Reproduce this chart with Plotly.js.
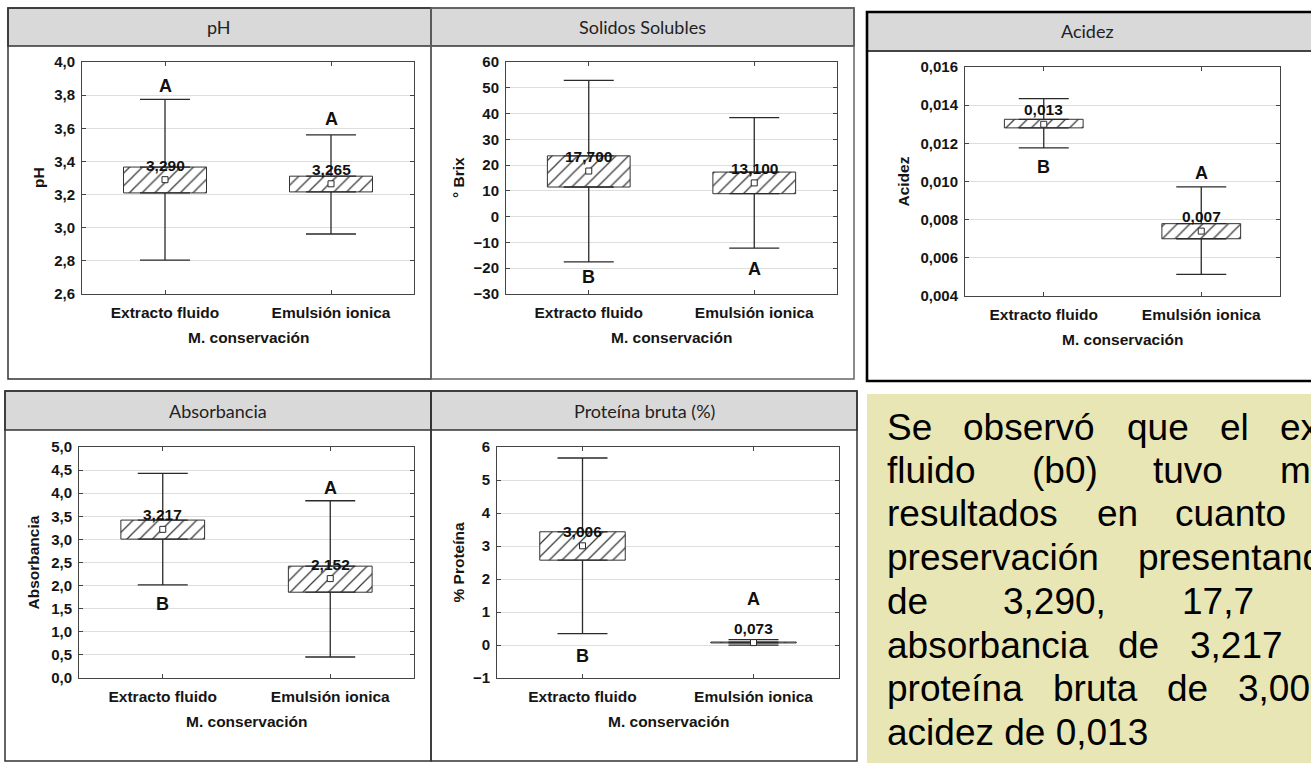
<!DOCTYPE html>
<html>
<head>
<meta charset="utf-8">
<script src="https://cdn.plot.ly/plotly-3.0.1.min.js"></script>
<style>html,body{margin:0;padding:0;background:#fff;}#chart{width:1311px;height:763px;}</style>
</head>
<body>
<div id="chart"></div>
<script>
// ---------------- DATA ----------------
const categories = ['Extracto fluido', 'Emulsión ionica'];
const panelTitles = ['pH', 'Solidos Solubles', 'Acidez', 'Absorbancia', 'Proteína bruta (%)'];
const yTitles = ['pH', '° Brix', 'Acidez', 'Absorbancia', '% Proteína'];
const xTitle = 'M. conservación';

const phMean = [3.290, 3.265];
const phBoxHigh = [3.366, 3.311];
const phBoxLow = [3.210, 3.216];
const phWhiskerHigh = [3.775, 3.560];
const phWhiskerLow = [2.805, 2.962];
const phLetters = ['A', 'A'];
const phLetterY = [3.853, 3.658];

const brixMean = [17.7, 13.1];
const brixBoxHigh = [23.6, 17.3];
const brixBoxLow = [11.5, 8.9];
const brixWhiskerHigh = [52.9, 38.4];
const brixWhiskerLow = [-17.5, -12.2];
const brixLetters = ['B', 'A'];
const brixLetterY = [-23.5, -20.4];

const acidMean = [0.0130, 0.0074];
const acidBoxHigh = [0.01326, 0.00779];
const acidBoxLow = [0.01281, 0.00700];
const acidWhiskerHigh = [0.01434, 0.00972];
const acidWhiskerLow = [0.01176, 0.00513];
const acidLetters = ['B', 'A'];
const acidLetterY = [0.01077, 0.01042];

const absMean = [3.217, 2.152];
const absBoxHigh = [3.418, 2.421];
const absBoxLow = [3.006, 1.857];
const absWhiskerHigh = [4.429, 3.837];
const absWhiskerLow = [2.016, 0.455];
const absLetters = ['B', 'A'];
const absLetterY = [1.604, 4.12];

const protMean = [3.006, 0.073];
const protBoxHigh = [3.431, 0.090];
const protBoxLow = [2.571, 0.062];
const protWhiskerHigh = [5.666, 0.160];
const protWhiskerLow = [0.345, -0.005];
const protLetters = ['B', 'A'];
const protLetterY = [-0.32, 1.38];

const yRanges = [[2.6, 4.0], [-30, 60], [0.004, 0.016], [0, 5], [-1, 6]];
const yDticks = [0.2, 10, 0.002, 0.5, 1];
const yFormats = ['.1f', 'd', '.3f', '.1f', 'd'];

const noteLines = [
  ['Se', 'observó', 'que', 'el', 'extracto'],
  ['fluido', '(b0)', 'tuvo', 'mejores'],
  ['resultados', 'en', 'cuanto'],
  ['preservación', 'presentando'],
  ['de', '3,290,', '17,7'],
  ['absorbancia', 'de', '3,217'],
  ['proteína', 'bruta', 'de', '3,006'],
  ['acidez de 0,013']
];

// ---------------- LAYOUT HELPERS ----------------
const W = 1311, H = 763;
const px = x => x / W;
const py = y => 1 - y / H;

const series = [
  {mean: phMean, hi: phBoxHigh, lo: phBoxLow, wh: phWhiskerHigh, wl: phWhiskerLow, letters: phLetters, ly: phLetterY},
  {mean: brixMean, hi: brixBoxHigh, lo: brixBoxLow, wh: brixWhiskerHigh, wl: brixWhiskerLow, letters: brixLetters, ly: brixLetterY},
  {mean: acidMean, hi: acidBoxHigh, lo: acidBoxLow, wh: acidWhiskerHigh, wl: acidWhiskerLow, letters: acidLetters, ly: acidLetterY},
  {mean: absMean, hi: absBoxHigh, lo: absBoxLow, wh: absWhiskerHigh, wl: absWhiskerLow, letters: absLetters, ly: absLetterY},
  {mean: protMean, hi: protBoxHigh, lo: protBoxLow, wh: protWhiskerHigh, wl: protWhiskerLow, letters: protLetters, ly: protLetterY}
];

// plot-area pixel boxes [left, right, top, bottom]
const plotBoxes = [
  [82, 414, 62, 294],
  [506, 837, 62, 294],
  [965, 1280, 67, 296],
  [79, 414, 447, 678],
  [497, 839, 447, 678]
];
// panel frames [left, right, top, headerBottom, bottom]
const frames = [
  [8, 431, 8, 46, 379],
  [431, 854, 8, 46, 379],
  [867, 1316, 12, 51, 381],
  [5, 431, 391, 430, 761],
  [431, 857, 391, 430, 761]
];
const yTitleX = [38, 458, 903, 33, 458];
const xTitleY = [337, 337, 339, 721, 721];

const FONT = 'Liberation Sans, Arial, sans-serif';
const INK = '#2a2a2a';
const TXT = '#151515';

const traces = [];
const annotations = [];
const shapes = [];
const layout = {
  width: W, height: H,
  margin: {l: 0, r: 0, t: 0, b: 0},
  paper_bgcolor: '#ffffff',
  plot_bgcolor: '#ffffff',
  showlegend: false,
  separators: ',.',
  font: {family: FONT, color: TXT}
};

// text box background
shapes.push({type: 'rect', xref: 'paper', yref: 'paper', x0: px(867), x1: px(1316), y0: py(394), y1: py(766),
  fillcolor: '#e7e6b4', line: {width: 0}, layer: 'below'});

series.forEach((s, i) => {
  const n = i + 1;
  const xa = n === 1 ? 'x' : 'x' + n;
  const ya = n === 1 ? 'y' : 'y' + n;
  const [l, r, t, b] = plotBoxes[i];
  const [fl, fr, ft, fh, fb] = frames[i];

  layout['xaxis' + (n === 1 ? '' : n)] = {
    domain: [px(l), px(r)], anchor: ya, type: 'category', range: [-0.5, 1.5],
    showgrid: false, zeroline: false, showline: true, linecolor: '#444', linewidth: 1, mirror: 'ticks',
    ticks: 'inside', ticklen: 4, tickcolor: '#444', automargin: false, fixedrange: true,
    tickfont: {family: FONT, size: 15.5, color: TXT, weight: 'bold'}, ticklabelstandoff: 4
  };
  layout['yaxis' + (n === 1 ? '' : n)] = {
    domain: [py(b), py(t)], anchor: xa, range: yRanges[i], dtick: yDticks[i], tick0: yRanges[i][0],
    tickformat: yFormats[i], showgrid: true, gridcolor: '#dedede', gridwidth: 1, zeroline: false,
    showline: true, linecolor: '#444', linewidth: 1, mirror: 'ticks', ticks: 'inside', ticklen: 4,
    tickcolor: '#444', automargin: false, fixedrange: true,
    tickfont: {family: FONT, size: 15, color: TXT, weight: 'bold'}, ticklabelstandoff: 3
  };

  // hatched box (mean ± error)
  traces.push({
    type: 'bar', x: categories, base: s.lo, y: s.hi.map((h, k) => h - s.lo[k]), width: 0.5,
    xaxis: xa, yaxis: ya, hoverinfo: 'skip',
    marker: {color: '#ffffff', line: {color: '#333', width: 1},
      pattern: {shape: '/', fgcolor: '#3a3a3a', bgcolor: '#ffffff', size: 9, solidity: 0.14}}
  });
  // upper whisker
  traces.push({
    type: 'scatter', mode: 'markers', x: categories, y: s.hi, xaxis: xa, yaxis: ya, hoverinfo: 'skip',
    marker: {color: 'rgba(0,0,0,0)', size: 1},
    error_y: {type: 'data', symmetric: false, array: s.wh.map((w, k) => w - s.hi[k]),
      arrayminus: [0, 0], width: 25, thickness: 1.3, color: INK}
  });
  // lower whisker
  traces.push({
    type: 'scatter', mode: 'markers', x: categories, y: s.lo, xaxis: xa, yaxis: ya, hoverinfo: 'skip',
    marker: {color: 'rgba(0,0,0,0)', size: 1},
    error_y: {type: 'data', symmetric: false, array: [0, 0], arrayminus: s.lo.map((v, k) => v - s.wl[k]),
      width: 25, thickness: 1.3, color: INK}
  });
  // mean marker
  traces.push({
    type: 'scatter', mode: 'markers', x: categories, y: s.mean, xaxis: xa, yaxis: ya, hoverinfo: 'skip',
    marker: {symbol: 'square', size: 6, color: '#ffffff', line: {color: INK, width: 1}}
  });

  // mean labels and letters
  s.mean.forEach((m, k) => {
    annotations.push({xref: xa, yref: ya, x: categories[k], y: m, yshift: 14.5, showarrow: false,
      xanchor: 'center', yanchor: 'middle',
      text: m.toFixed(3).replace('.', ','), font: {family: FONT, size: 15.5, color: '#111', weight: 'bold'}});
    annotations.push({xref: xa, yref: ya, x: categories[k], y: s.ly[k], showarrow: false,
      xanchor: 'center', yanchor: 'middle',
      text: s.letters[k], font: {family: FONT, size: 18, color: '#111', weight: 'bold'}});
  });

  // axis titles
  annotations.push({xref: 'paper', yref: 'paper', x: px(yTitleX[i]), y: py((t + b) / 2), textangle: -90,
    xanchor: 'center', yanchor: 'middle',
    showarrow: false, text: yTitles[i], font: {family: FONT, size: 15.5, color: TXT, weight: 'bold'}});
  annotations.push({xref: 'paper', yref: 'paper', x: px((l + r) / 2), y: py(xTitleY[i]),
    xanchor: 'center', yanchor: 'middle',
    showarrow: false, text: xTitle, font: {family: FONT, size: 15.5, color: TXT, weight: 'bold'}});

  // panel frame & header
  const thick = i === 2;
  shapes.push({type: 'rect', xref: 'paper', yref: 'paper', x0: px(fl), x1: px(fr), y0: py(fh), y1: py(ft),
    fillcolor: '#d9d9d9', line: {color: thick ? '#444' : '#333', width: thick ? 2 : 1.5}, layer: 'below'});
  shapes.push({type: 'rect', xref: 'paper', yref: 'paper', x0: px(fl), x1: px(fr), y0: py(fb), y1: py(ft),
    fillcolor: 'rgba(0,0,0,0)', line: {color: thick ? '#000' : (i === 1 ? '#666' : '#333'), width: thick ? 2.6 : 1.5}, layer: 'above'});
  annotations.push({xref: 'paper', yref: 'paper', x: px((fl + Math.min(fr, 1307)) / 2), y: py((ft + fh) / 2),
    xanchor: 'center', yanchor: 'middle',
    showarrow: false, text: panelTitles[i], font: {family: 'Lato, Open Sans, sans-serif', size: 18, color: '#222'}});
});

// note text, word positions (left x, baseline y) in pixels
const wordX = [
  [887, 963, 1127, 1220, 1280],
  [887, 1032, 1153, 1280],
  [887, 1097, 1175],
  [887, 1138],
  [887, 1003, 1182],
  [887, 1118, 1190],
  [887, 1053, 1167, 1238],
  [887]
];
const baselines = [440, 483, 526, 570, 614, 658, 701, 745];
noteLines.forEach((words, li) => {
  words.forEach((w, wi) => {
    annotations.push({xref: 'paper', yref: 'paper', x: px(wordX[li][wi] - 2), y: py(baselines[li] - 13),
      xanchor: 'left', yanchor: 'middle', showarrow: false, text: w,
      font: {family: FONT, size: 37, color: '#000'}});
  });
});

layout.annotations = annotations;
layout.shapes = shapes;

Plotly.newPlot('chart', traces, layout, {staticPlot: true, displayModeBar: false});
</script>
</body>
</html>
